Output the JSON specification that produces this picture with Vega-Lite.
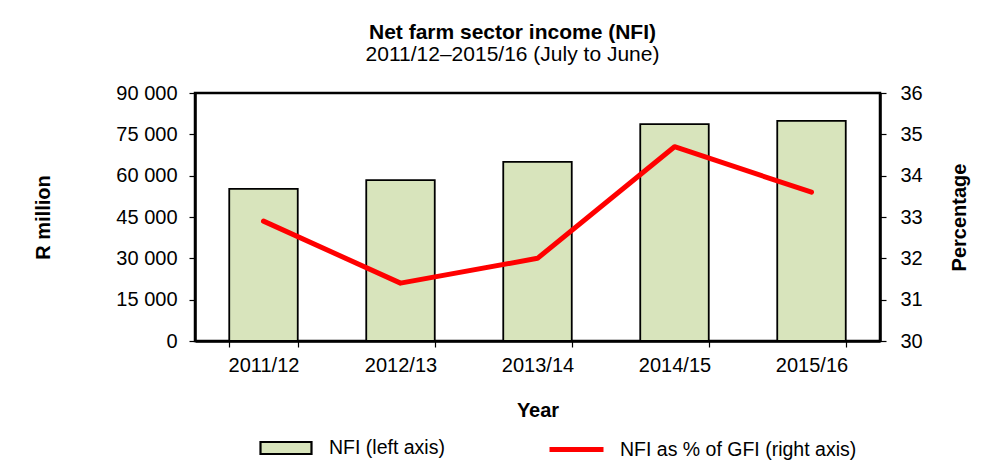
{
  "$schema": "https://vega.github.io/schema/vega-lite/v6.json",
  "width": 685,
  "height": 248,
  "autosize": {"type": "none"},
  "padding": {"left": 195, "top": 93, "right": 127, "bottom": 133},
  "background": "white",
  "config": {
    "font": "Liberation Sans",
    "view": {"stroke": "black", "strokeWidth": 2.5},
    "axis": {
      "labelFont": "Liberation Sans",
      "labelFontSize": 20,
      "labelColor": "black",
      "titleFont": "Liberation Sans",
      "titleFontSize": 20,
      "titleFontWeight": "bold",
      "titleColor": "black",
      "domainColor": "black",
      "domainWidth": 2.5,
      "tickColor": "black",
      "tickWidth": 1.2,
      "tickSize": 6,
      "grid": false
    },
    "legend": {
      "labelFont": "Liberation Sans",
      "labelFontSize": 19.5,
      "labelColor": "black",
      "labelLimit": 400,
      "padding": 0,
      "title": null
    }
  },
  "title": {
    "text": "Net farm sector income (NFI)",
    "subtitle": "2011/12–2015/16 (July to June)",
    "font": "Liberation Sans",
    "subtitleFont": "Liberation Sans",
    "fontSize": 21,
    "subtitleFontSize": 21,
    "fontWeight": "bold",
    "color": "black",
    "subtitleColor": "black",
    "anchor": "middle",
    "offset": 18,
    "dx": -25,
    "subtitlePadding": 1
  },
  "data": {
    "values": [
      {"year": "2011/12", "nfi": 55200, "pct": 32.9},
      {"year": "2012/13", "nfi": 58400, "pct": 31.4},
      {"year": "2013/14", "nfi": 65000, "pct": 32.0},
      {"year": "2014/15", "nfi": 78700, "pct": 34.7},
      {"year": "2015/16", "nfi": 79900, "pct": 33.6}
    ]
  },
  "encoding": {
    "x": {
      "field": "year",
      "type": "ordinal",
      "sort": null,
      "scale": {"paddingInner": 0.5, "paddingOuter": 0.25},
      "axis": {
        "title": "Year",
        "labelAngle": 0,
        "tickBand": "extent",
        "labelPadding": 8,
        "titlePadding": 25
      }
    }
  },
  "layer": [
    {
      "mark": {"type": "bar", "stroke": "black", "strokeWidth": 1.8},
      "encoding": {
        "y": {
          "field": "nfi",
          "type": "quantitative",
          "scale": {"domain": [0, 90000], "nice": false},
          "axis": {
            "title": "R million",
            "values": [0, 15000, 30000, 45000, 60000, 75000, 90000],
            "labelExpr": "replace(format(datum.value, ','), ',', ' ')",
            "labelPadding": 12,
            "titlePadding": 62
          }
        },
        "fill": {
          "datum": "NFI (left axis)",
          "type": "nominal",
          "scale": {"domain": ["NFI (left axis)"], "range": ["#d8e4bc"]},
          "legend": {
            "title": null,
            "orient": "none",
            "legendX": 64,
            "legendY": 328,
            "symbolType": "M-1,-0.235H1V0.235H-1Z",
            "symbolSize": 2601,
            "symbolStrokeColor": "black",
            "symbolStrokeWidth": 2.2,
            "labelOffset": 16
          }
        }
      }
    },
    {
      "mark": {"type": "line", "strokeWidth": 5, "strokeCap": "round", "strokeJoin": "round"},
      "encoding": {
        "y": {
          "field": "pct",
          "type": "quantitative",
          "scale": {"domain": [30, 36], "nice": false, "zero": false},
          "axis": {
            "title": "Percentage",
            "orient": "right",
            "values": [30, 31, 32, 33, 34, 35, 36],
            "labelPadding": 14,
            "titleAngle": 270,
            "titlePadding": 47
          }
        },
        "stroke": {
          "datum": "NFI as % of GFI (right axis)",
          "type": "nominal",
          "scale": {"domain": ["NFI as % of GFI (right axis)"], "range": ["#ff0000"]},
          "legend": {
            "title": null,
            "orient": "none",
            "legendX": 352,
            "legendY": 327,
            "symbolType": "stroke",
            "symbolSize": 2916,
            "symbolStrokeWidth": 5,
            "labelOffset": 14
          }
        }
      }
    }
  ],
  "resolve": {"scale": {"y": "independent"}}
}
